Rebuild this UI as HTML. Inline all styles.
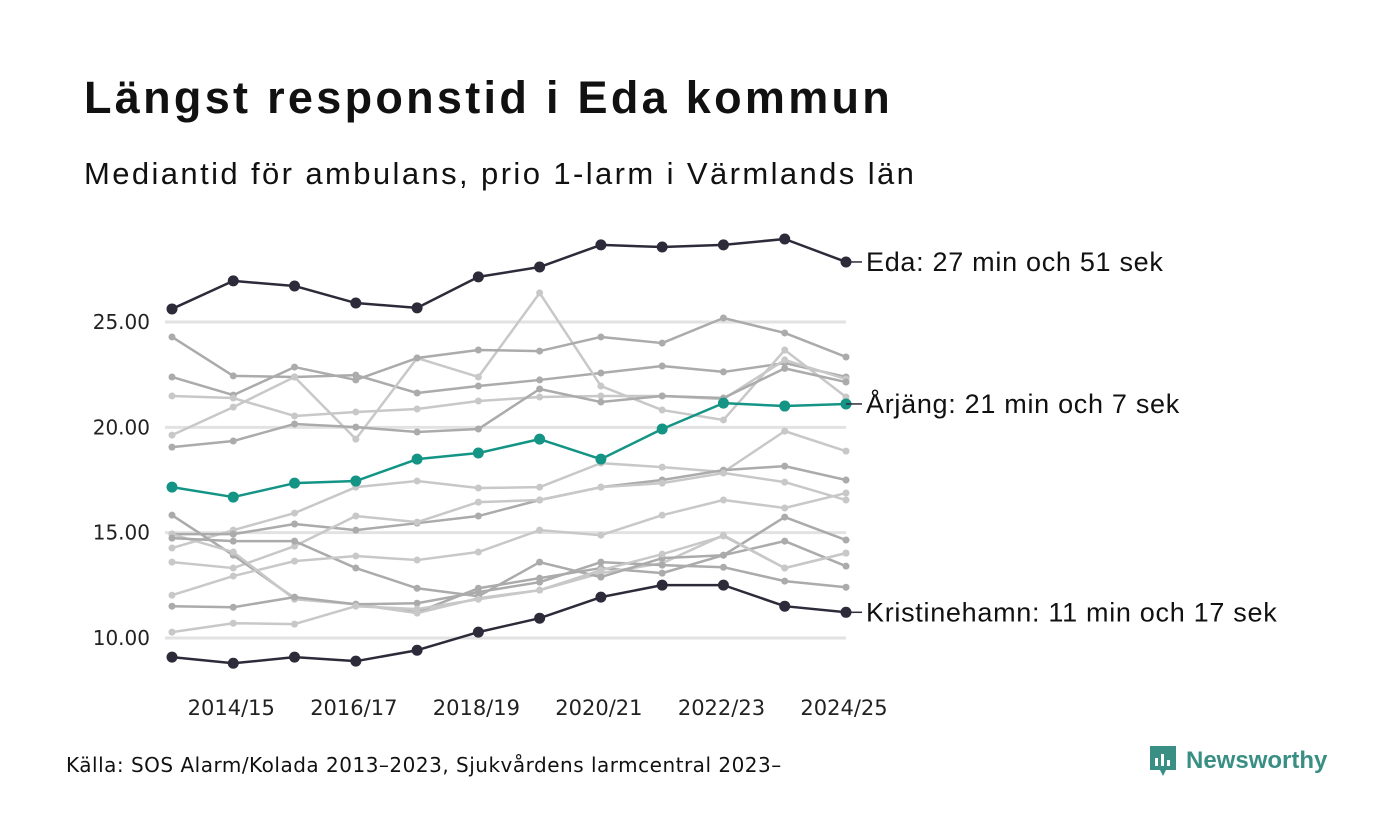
<!DOCTYPE html>
<html><head><meta charset="utf-8"><style>
body{margin:0;width:1400px;height:840px;background:#fff;font-family:"Liberation Sans",sans-serif;overflow:hidden;position:relative}
.t{position:absolute;left:84px;top:72px;font-size:45px;font-weight:bold;color:#111;letter-spacing:3.3px;white-space:nowrap}
.s{position:absolute;left:84px;top:156px;font-size:31px;color:#111;letter-spacing:2.4px;white-space:nowrap}
.src{position:absolute;left:66px;top:753px;font-size:20px;color:#111;font-family:"DejaVu Sans",sans-serif;letter-spacing:0.5px;white-space:nowrap}
.logo{position:absolute;left:1148px;top:744px;display:flex;align-items:center;gap:8px;color:#3a8f85;font-weight:bold;font-size:24px}
</style></head><body>
<div class="t">Längst responstid i Eda kommun</div>
<div class="s">Mediantid för ambulans, prio 1-larm i Värmlands län</div>
<svg id="chart" width="1400" height="840" style="position:absolute;left:0;top:0"></svg>
<div class="src">Källa: SOS Alarm/Kolada 2013–2023, Sjukvårdens larmcentral 2023–</div>
<div class="logo"><svg width="30" height="34" viewBox="0 0 30 34"><path d="M2 2h26v24H18l-3 6-3-6H2z" fill="#3a8f85"/><rect x="7" y="14" width="3" height="8" fill="#fff"/><rect x="13" y="10" width="3" height="12" fill="#fff"/><rect x="19" y="16" width="3" height="6" fill="#fff"/></svg><span>Newsworthy</span></div>
<script>
const categories=["2013/14","2014/15","2015/16","2016/17","2017/18","2018/19","2019/20","2020/21","2021/22","2022/23","2023/24","2024/25"];
const xTickLabels=["2014/15","2016/17","2018/19","2020/21","2022/23","2024/25"];
const yTicks=[10,15,20,25];
const eda=[25.62,26.95,26.71,25.9,25.67,27.14,27.61,28.66,28.56,28.66,28.94,27.85];
const arjang=[17.16,16.69,17.35,17.45,18.49,18.78,19.44,18.49,19.92,21.15,21.01,21.11];
const kristinehamn=[9.09,8.8,9.09,8.9,9.42,10.28,10.94,11.94,12.51,12.51,11.51,11.22];
const grayA=[24.29,22.44,22.39,22.48,21.63,21.96,22.25,22.58,22.91,22.63,23.05,22.39];
const grayB=[19.63,20.96,22.39,19.44,23.29,22.39,26.38,21.96,20.82,20.35,23.67,21.44];
const grayC=[22.39,21.53,22.86,22.25,23.29,23.67,23.62,24.29,24.0,25.19,24.48,23.34];
const grayD=[21.49,21.39,20.54,20.73,20.87,21.25,21.44,21.49,21.49,21.34,23.2,22.29];
const grayE=[19.06,19.35,20.16,20.01,19.78,19.92,21.82,21.2,21.49,21.39,22.8,22.15];
const grayF=[14.27,15.12,15.93,17.16,17.45,17.12,17.16,18.3,18.11,17.88,19.82,18.87];
const grayG=[14.93,14.93,15.41,15.12,15.45,15.79,16.55,17.16,17.5,17.97,18.16,17.5];
const grayH=[13.6,13.32,14.36,15.79,15.5,16.45,16.55,17.16,17.35,17.83,17.4,16.55];
const grayI=[15.83,13.93,11.89,11.6,11.22,12.36,12.84,13.32,13.08,13.93,15.74,14.65];
const grayJ=[14.93,14.08,11.84,11.6,11.18,11.89,12.27,13.08,13.55,14.88,13.32,14.03];
const grayK=[14.74,14.6,14.6,13.32,12.36,11.98,13.6,12.89,13.79,13.93,14.6,13.41];
const grayL=[12.03,12.94,13.65,13.89,13.7,14.08,15.12,14.88,15.83,16.55,16.17,16.88];
const grayM=[11.51,11.46,11.94,11.6,11.65,12.18,12.65,13.6,13.46,13.36,12.7,12.41];
const grayN=[10.28,10.7,10.66,11.51,11.37,11.84,12.27,13.22,13.98,14.84,13.32,14.03];
const grays=[grayA,grayB,grayC,grayD,grayE,grayF,grayG,grayH,grayI,grayJ,grayK,grayL,grayM,grayN];
const labels=["Eda: 27 min och 51 sek","Årjäng: 21 min och 7 sek","Kristinehamn: 11 min och 17 sek"];

const svg=document.getElementById('chart');const NS="http://www.w3.org/2000/svg";
const x=i=>172+i*(846-172)/(categories.length-1);
const y=v=>322+(25-v)*(638-322)/15;
function mk(t,a){const e=document.createElementNS(NS,t);for(const k in a)e.setAttribute(k,a[k]);svg.appendChild(e);return e;}
yTicks.forEach(v=>{
 const g=mk('line',{x1:165,x2:846,y1:y(v),y2:y(v),stroke:'#e2e2e2','stroke-width':3});
 
 
 const t=mk('text',{x:150,y:y(v)+7,'text-anchor':'end','font-size':20,fill:'#222','font-family':'DejaVu Sans, sans-serif'});t.textContent=v.toFixed(2);
 
 
});
xTickLabels.forEach(l=>{
 const t=mk('text',{x:x(categories.indexOf(l))-2,y:715,'text-anchor':'middle','font-size':21,fill:'#222','font-family':'DejaVu Sans, sans-serif'});t.textContent=l;
 
 
});
function series(d,col,w,r,name){
 const p=mk('polyline',{points:d.map((v,i)=>x(i)+','+y(v)).join(' '),fill:'none',stroke:col,'stroke-width':w,'stroke-linejoin':'round'});
 
 
 d.forEach((v,i)=>{const c=mk('circle',{cx:x(i),cy:y(v),r:r,fill:col});
 
 });
}
grays.forEach((d,k)=>series(d,k%2?'#c8c8c8':'#ababab',2.5,3.5,'municipality'));
[[eda,'#2d2b3a','eda'],[arjang,'#139485','arjang'],[kristinehamn,'#2d2b3a','kristinehamn']].forEach((s,k)=>{
 series(s[0],s[1],2.5,5.5,s[2]);
 const yy=y(s[0][s[0].length-1]);
 const l=mk('line',{x1:846,x2:862,y1:yy,y2:yy,stroke:'#2d2b3a','stroke-width':1.5});
 
 
 const t=mk('text',{x:866,y:yy+9,'font-size':27,fill:'#111','letter-spacing':0.7});t.textContent=labels[k];
 
 
});
</script>
</body></html>
